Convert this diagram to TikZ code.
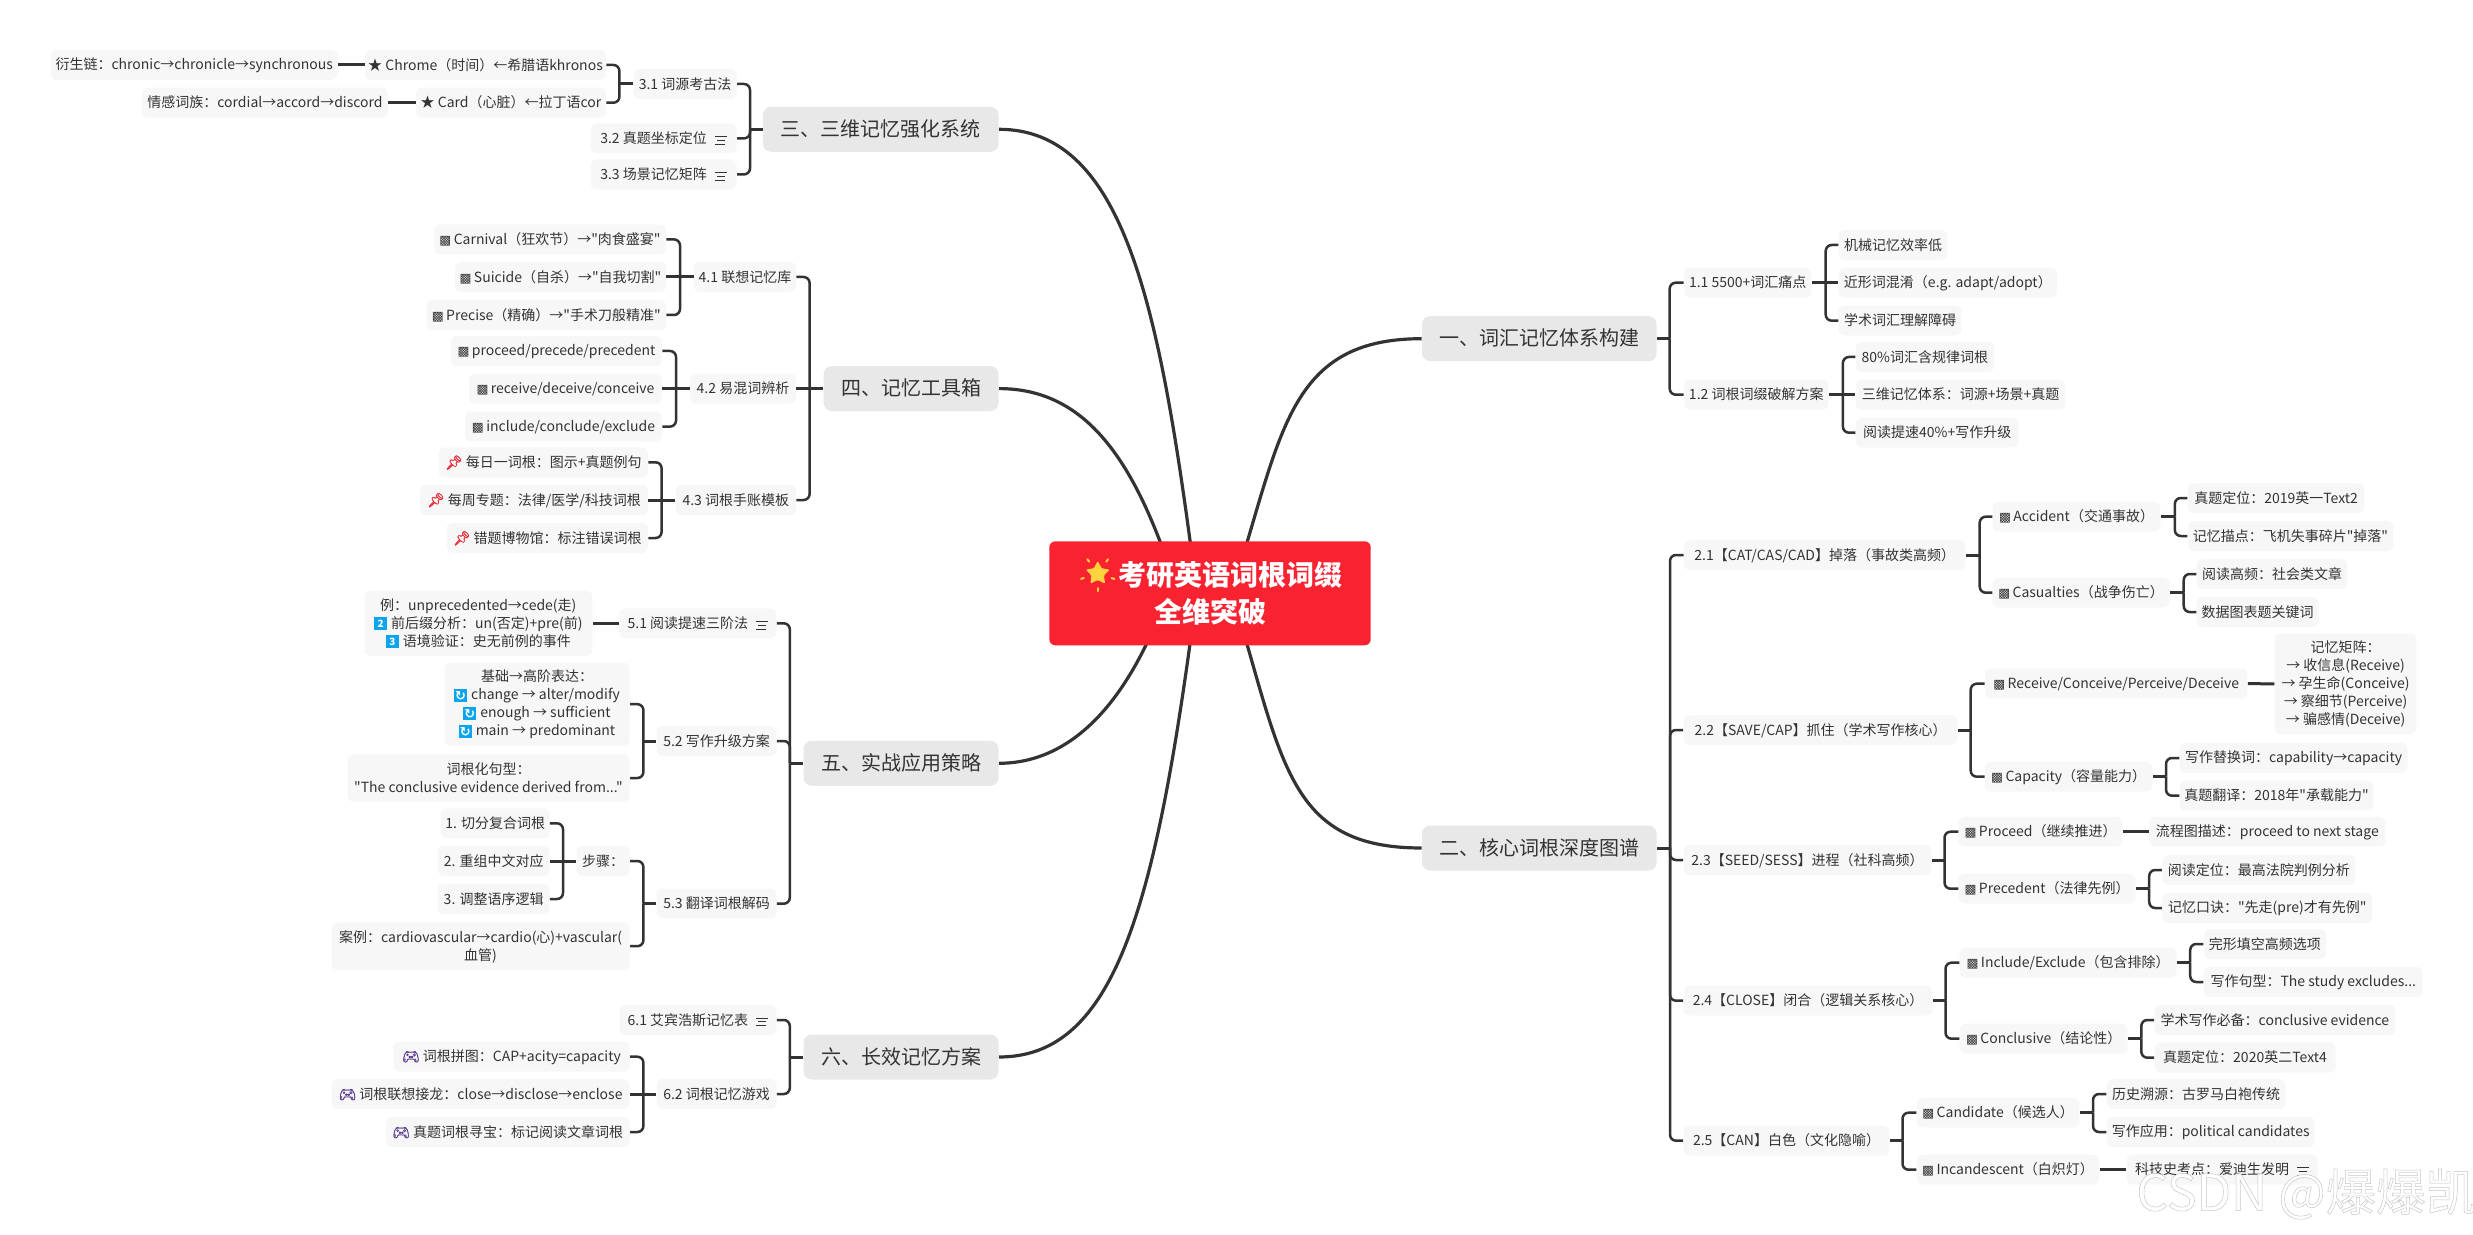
\documentclass[tikz,border=0pt]{standalone}
\usepackage{fontspec}
\usepackage{xcolor}
\usetikzlibrary{shapes.geometric,backgrounds}
\setmainfont{Noto Sans CJK SC}
\newfontfamily\nsc{Noto Sans CJK SC}
\newfontfamily\djvfont{DejaVu Sans}
\newfontfamily\emofont[FakeBold=1.5]{Noto Emoji}
\newfontfamily\wmfont[FakeBold=1]{Noto Sans CJK SC}
\normallineskiplimit=-20pt
\lineskiplimit=-20pt
\definecolor{ink}{HTML}{333333}
\definecolor{leaffill}{HTML}{F7F7F7}
\definecolor{topicfill}{HTML}{E8E8E8}
\definecolor{hubred}{HTML}{F92231}
\definecolor{sunyellow}{HTML}{FFD33D}
\definecolor{tileblue}{HTML}{0AA5EE}
\definecolor{pinred}{HTML}{E8303A}
\definecolor{padpurple}{HTML}{5A3A8E}
\newcommand\lstrut{\rule{0pt}{6.3pt}\rule[-1.1pt]{0pt}{0pt}}
\newcommand\nd[6]{\node[#1, minimum width={(#4-#3)*0.5pt}] (#2) at ({(#3+#4)/2},#5) {\lstrut#6\lstrut};}
\newcommand\stemL[2]{\coordinate (bus) at (#2,0); \draw[stem] (#1.west) -- (#1.west -| bus);}
\newcommand\stemR[2]{\coordinate (bus) at (#2,0); \draw[stem] (#1.east) -- (#1.east -| bus);}
\newcommand\brL[3]{\coordinate (bus) at (#3,0); \draw[branch] (#1.west -| bus) |- (#2.east);}
\newcommand\brR[3]{\coordinate (bus) at (#3,0); \draw[branch] (#1.east -| bus) |- (#2.west);}
\newcommand\lineL[2]{\draw[stem] (#1.west) -- (#2.east);}
\newcommand\lineR[2]{\draw[stem] (#1.east) -- (#2.west);}
\newcommand\cube{{\djvfont\fontsize{6.3}{6}\selectfont ▩}\hspace{1.2pt}}
\newcommand\pin{{\emofont\color{pinred}📌}\hspace{1.5pt}}
\newcommand\pad{{\emofont\color{padpurple}🎮}\hspace{1.5pt}}
\newcommand\tile[1]{{\setlength\fboxsep{0pt}\raisebox{-0.9pt}{\colorbox{tileblue}{\makebox[6.5pt]{\rule{0pt}{6.5pt}\textcolor{white}{\fontsize{5}{5}\selectfont\bfseries #1}}}}}\hspace{2pt}}
\newcommand\syn{\tile{\raisebox{0.7pt}{\djvfont\fontsize{6.5}{6.5}\selectfont ↻}}}
\newcommand\noteicon{\hspace{4pt}\raisebox{-0.4pt}{\vbox{\hrule width 6pt height .35pt \vskip 1.6pt \hbox{\hspace{1pt}\vrule width 4pt height .35pt}\vskip 1.6pt\hrule width 5pt height .35pt}}}
\tikzset{
  leaf/.style={fill=leaffill,rounded corners=3pt,inner sep=0pt,minimum height=15pt,align=center,text=ink,font=\nsc\fontsize{7}{9}\selectfont},
  topic/.style={fill=topicfill,rounded corners=4pt,inner sep=0pt,minimum height=22.5pt,align=center,text=ink,font=\nsc\fontsize{10}{12}\selectfont},
  hubnode/.style={fill=hubred,rounded corners=3pt,inner sep=0pt,align=center,text=white,font=\nsc\fontsize{14}{18.3}\selectfont\bfseries},
  stem/.style={draw=ink,line width=1.5pt},
  branch/.style={draw=ink,line width=1.25pt,rounded corners=3pt},
  main/.style={draw=ink,line width=1.6pt},
}
\begin{document}
\begin{tikzpicture}[x=0.5pt,y=-0.5pt]
\useasboundingbox (0,0) rectangle (2473,1235);
% hub
\node[hubnode,minimum width=160.7pt,minimum height=52pt] (hub) at (1210,593.3) {\makebox[20pt]{}考研英语词根词缀\\全维突破};
\node[star,star points=5,star point ratio=1.9,fill=sunyellow,inner sep=0pt,minimum size=12.5pt,rounded corners=0.5pt] (sun) at (1097.7,573.5) {};
\foreach \a in {54,126,198,270,342}{\draw[sunyellow,line width=1pt,line cap=round] ([shift={(\a:7.3pt)}]sun.center) -- ([shift={(\a:8.8pt)}]sun.center);}
% topics
\nd{topic}{t1}{1422}{1656.7}{338.7}{一、词汇记忆体系构建}
\nd{topic}{t2}{1422}{1656.7}{848}{二、核心词根深度图谱}
\nd{topic}{t3}{763}{998.5}{129.3}{三、三维记忆强化系统}
\nd{topic}{t4}{823.7}{998.5}{388.6}{四、记忆工具箱}
\nd{topic}{t5}{803.6}{998.5}{763.3}{五、实战应用策略}
\nd{topic}{t6}{803.6}{998.5}{1057}{六、长效记忆方案}
\begin{scope}[on background layer]
\draw[main] (t1.west) .. controls (1300,338.7) and (1284,418) .. ([xshift=98.7pt,yshift=-2pt]hub.north west);
\draw[main] (t2.west) .. controls (1300,848) and (1285,777) .. ([xshift=98.7pt,yshift=2pt]hub.south west);
\draw[main] (t3.east) .. controls (1120,129.3) and (1157,295) .. ([xshift=70.85pt,yshift=-2pt]hub.north west);
\draw[main] (t4.east) .. controls (1075,388.6) and (1123,443) .. ([xshift=56.2pt,yshift=-2pt]hub.north west);
\draw[main] (t5.east) .. controls (1050,763.3) and (1104,733) .. ([xshift=49.35pt,yshift=2pt]hub.south west);
\draw[main] (t6.east) .. controls (1110,1057) and (1152,920) .. ([xshift=70.7pt,yshift=2pt]hub.south west);
\end{scope}
% section 1
\nd{leaf}{a1}{1684}{1811.4}{282.7}{1.1 5500+词汇痛点}
\nd{leaf}{a2}{1684}{1828.5}{394.7}{1.2 词根词缀破解方案}
\nd{leaf}{a11}{1838.7}{1947.6}{245}{机械记忆效率低}
\nd{leaf}{a12}{1838.7}{2057}{282.7}{近形词混淆（e.g. adapt/adopt）}
\nd{leaf}{a13}{1838.7}{1961.3}{320.7}{学术词汇理解障碍}
\nd{leaf}{a21}{1855.8}{1994}{357}{80\%词汇含规律词根}
\nd{leaf}{a22}{1855.8}{2065.3}{394.7}{三维记忆体系：词源+场景+真题}
\nd{leaf}{a23}{1855.8}{2018.7}{432.7}{阅读提速40\%+写作升级}
\stemR{t1}{1669.7}\brR{t1}{a1}{1669.7}\brR{t1}{a2}{1669.7}
\lineR{a1}{a12}\brR{a1}{a11}{1825.7}\brR{a1}{a13}{1825.7}
\lineR{a2}{a22}\brR{a2}{a21}{1842.9}\brR{a2}{a23}{1842.9}
% section 2
\nd{leaf}{b1}{1684}{1965.4}{555}{2.1【CAT/CAS/CAD】掉落（事故类高频）}
\nd{leaf}{b11}{1992.7}{2160.4}{516.7}{\cube Accident（交通事故）}
\nd{leaf}{b12}{1992.7}{2169.3}{592.7}{\cube Casualties（战争伤亡）}
\nd{leaf}{b111}{2187.8}{2364.4}{498}{真题定位：2019英一Text2}
\nd{leaf}{b112}{2187.8}{2393}{536}{记忆描点：飞机失事碎片"掉落"}
\nd{leaf}{b121}{2196.7}{2347.3}{574}{阅读高频：社会类文章}
\nd{leaf}{b122}{2196.7}{2318.5}{612}{数据图表题关键词}
\stemR{t2}{1670}\brR{t2}{b1}{1670}
\stemR{b1}{1979.7}\brR{b1}{b11}{1979.7}\brR{b1}{b12}{1979.7}
\stemR{b11}{2174.8}\brR{b11}{b111}{2174.8}\brR{b11}{b112}{2174.8}
\stemR{b12}{2183.7}\brR{b12}{b121}{2183.7}\brR{b12}{b122}{2183.7}
\nd{leaf}{b2}{1683.6}{1957.6}{730}{2.2【SAVE/CAP】抓住（学术写作核心）}
\nd{leaf}{b21}{1985}{2247.4}{683.7}{\cube Receive/Conceive/Perceive/Deceive}
\nd{leaf,minimum height=50.5pt}{b211}{2274.7}{2416.4}{683.8}{记忆矩阵：\\→ 收信息(Receive)\\→ 孕生命(Conceive)\\→ 察细节(Perceive)\\→ 骗感情(Deceive)}
\nd{leaf}{b22}{1985}{2152.4}{776.7}{\cube Capacity（容量能力）}
\nd{leaf}{b221}{2179.7}{2407.5}{758}{写作替换词：capability→capacity}
\nd{leaf}{b222}{2179.7}{2373.4}{795.7}{真题翻译：2018年"承载能力"}
\brR{t2}{b2}{1670}
\stemR{b2}{1970.7}\brR{b2}{b21}{1970.7}\brR{b2}{b22}{1970.7}
\lineR{b21}{b211}
\stemR{b22}{2166}\brR{b22}{b221}{2166}\brR{b22}{b222}{2166}
\nd{leaf}{b3}{1683.6}{1931.4}{860}{2.3【SEED/SESS】进程（社科高频）}
\nd{leaf}{b31}{1958.7}{2122.4}{831.7}{\cube Proceed（继续推进）}
\nd{leaf}{b311}{2149.2}{2385.4}{831.7}{流程图描述：proceed to next stage}
\nd{leaf}{b32}{1958.7}{2135.6}{888.7}{\cube Precedent（法律先例）}
\nd{leaf}{b321}{2162.3}{2355.5}{870}{阅读定位：最高法院判例分析}
\nd{leaf}{b322}{2162.3}{2372.3}{908}{记忆口诀："先走(pre)才有先例"}
\brR{t2}{b3}{1670}
\stemR{b3}{1944.5}\brR{b3}{b31}{1944.5}\brR{b3}{b32}{1944.5}
\lineR{b31}{b311}
\stemR{b32}{2149.2}\brR{b32}{b321}{2149.2}\brR{b32}{b322}{2149.2}
\nd{leaf}{b4}{1683.6}{1932.4}{1000.7}{2.4【CLOSE】闭合（逻辑关系核心）}
\nd{leaf}{b41}{1959.7}{2176.5}{962.7}{\cube Include/Exclude（包含排除）}
\nd{leaf}{b411}{2203.8}{2326}{944}{完形填空高频选项}
\nd{leaf}{b412}{2203.8}{2422.7}{982}{写作句型：The study excludes...}
\nd{leaf}{b42}{1959.7}{2127.7}{1038.7}{\cube Conclusive（结论性）}
\nd{leaf}{b421}{2154.5}{2395.4}{1020}{学术写作必备：conclusive evidence}
\nd{leaf}{b422}{2154.5}{2335.6}{1057.7}{真题定位：2020英二Text4}
\brR{t2}{b4}{1670}
\stemR{b4}{1945.5}\brR{b4}{b41}{1945.5}\brR{b4}{b42}{1945.5}
\stemR{b41}{2190.2}\brR{b41}{b411}{2190.2}\brR{b41}{b412}{2190.2}
\stemR{b42}{2141.3}\brR{b42}{b421}{2141.3}\brR{b42}{b422}{2141.3}
\nd{leaf}{b5}{1683.6}{1889.4}{1140.7}{2.5【CAN】白色（文化隐喻）}
\nd{leaf}{b51}{1916.7}{2079.4}{1112.7}{\cube Candidate（候选人）}
\nd{leaf}{b511}{2106.7}{2285.7}{1094}{历史溯源：古罗马白袍传统}
\nd{leaf}{b512}{2106.7}{2314.6}{1132}{写作应用：political candidates}
\nd{leaf}{b52}{1916.7}{2099.4}{1169.7}{\cube Incandescent（白炽灯）}
\nd{leaf}{b521}{2126.6}{2317.7}{1169.7}{科技史考点：爱迪生发明\noteicon}
\brR{t2}{b5}{1670}
\stemR{b5}{1902.5}\brR{b5}{b51}{1902.5}\brR{b5}{b52}{1902.5}
\stemR{b51}{2093}\brR{b51}{b511}{2093}\brR{b51}{b512}{2093}
\lineR{b52}{b521}
% section 3
\nd{leaf}{c1}{633.5}{736.6}{84}{3.1 词源考古法}
\nd{leaf}{c2}{590.6}{736.6}{138.4}{3.2 真题坐标定位\noteicon}
\nd{leaf}{c3}{590.6}{736.6}{174.4}{3.3 场景记忆矩阵\noteicon}
\nd{leaf}{c11}{365}{606}{65}{★ Chrome（时间）←希腊语khronos}
\nd{leaf}{c12}{416}{606}{102.7}{★ Card（心脏）←拉丁语cor}
\nd{leaf}{c111}{51}{337.5}{65}{衍生链：chronic→chronicle→synchronous}
\nd{leaf}{c121}{142}{388}{102.7}{情感词族：cordial→accord→discord}
\stemL{t3}{750}\brL{t3}{c1}{750}\brL{t3}{c2}{750}\brL{t3}{c3}{750}
\stemL{c1}{619.4}\brL{c1}{c11}{619.4}\brL{c1}{c12}{619.4}
\lineL{c11}{c111}\lineL{c12}{c121}
% section 4
\nd{leaf}{d1}{694}{796}{277}{4.1 联想记忆库}
\nd{leaf}{d2}{690}{796}{388.6}{4.2 易混词辨析}
\nd{leaf}{d3}{675.7}{796}{500}{4.3 词根手账模板}
\nd{leaf}{d11}{434}{666}{239.4}{\cube Carnival（狂欢节）→"肉食盛宴"}
\nd{leaf}{d12}{455}{666}{277}{\cube Suicide（自杀）→"自我切割"}
\nd{leaf}{d13}{426.6}{666}{315}{\cube Precise（精确）→"手术刀般精准"}
\nd{leaf}{d21}{451}{662}{351}{\cube proceed/precede/precedent}
\nd{leaf}{d22}{469}{662}{388.6}{\cube receive/deceive/conceive}
\nd{leaf}{d23}{465}{662}{426.6}{\cube include/conclude/exclude}
\nd{leaf}{d31}{438.6}{648}{462.3}{\pin 每日一词根：图示+真题例句}
\nd{leaf}{d32}{420}{648}{500}{\pin 每周专题：法律/医学/科技词根}
\nd{leaf}{d33}{446.7}{648}{538}{\pin 错题博物馆：标注错误词根}
\lineL{t4}{d2}\brL{t4}{d1}{809.6}\brL{t4}{d3}{809.6}
\lineL{d1}{d12}\brL{d1}{d11}{680}\brL{d1}{d13}{680}
\lineL{d2}{d22}\brL{d2}{d21}{676}\brL{d2}{d23}{676}
\lineL{d3}{d32}\brL{d3}{d31}{661.6}\brL{d3}{d33}{661.6}
% section 5
\nd{leaf}{e1}{619.4}{776.5}{623.3}{5.1 阅读提速三阶法\noteicon}
\nd{leaf}{e2}{656.6}{776.5}{741}{5.2 写作升级方案}
\nd{leaf}{e3}{656.6}{776.5}{903.7}{5.3 翻译词根解码}
\nd{leaf,minimum height=32.6pt}{e11}{364.3}{592.3}{623.3}{例：unprecedented→cede(走)\\\tile{\raisebox{1.3pt}{2}}前后缀分析：un(否定)+pre(前)\\\tile{\raisebox{1.3pt}{3}}语境验证：史无前例的事件}
\nd{leaf,minimum height=41.5pt}{e21}{444.4}{629.6}{704.2}{基础→高阶表达：\\\syn change → alter/modify\\\syn enough → sufficient\\\syn main → predominant}
\nd{leaf,minimum height=23.7pt}{e22}{347.4}{629.6}{778}{词根化句型：\\"The conclusive evidence derived from..."}
\nd{leaf}{e31}{576.5}{629.6}{861}{步骤：}
\nd{leaf,minimum height=23.7pt}{e32}{331.6}{629.6}{946.2}{案例：cardiovascular→cardio(心)+vascular(\\血管)}
\nd{leaf}{e311}{441}{549.5}{823.3}{1. 切分复合词根}
\nd{leaf}{e312}{438}{549.5}{861}{2. 重组中文对应}
\nd{leaf}{e313}{437.8}{549.5}{899}{3. 调整语序逻辑}
\stemL{t5}{789.8}\brL{t5}{e1}{789.8}\brL{t5}{e2}{789.8}\brL{t5}{e3}{789.8}
\lineL{e1}{e11}
\stemL{e2}{643.4}\brL{e2}{e21}{643.4}\brL{e2}{e22}{643.4}
\stemL{e3}{643.4}\brL{e3}{e31}{643.4}\brL{e3}{e32}{643.4}
\lineL{e31}{e312}\brL{e31}{e311}{563}\brL{e31}{e313}{563}
% section 6
\nd{leaf}{f1}{619.4}{776.5}{1020}{6.1 艾宾浩斯记忆表\noteicon}
\nd{leaf}{f2}{656.6}{776.5}{1094}{6.2 词根记忆游戏}
\nd{leaf}{f21}{393.4}{629.6}{1056.7}{\pad 词根拼图：CAP+acity=capacity}
\nd{leaf}{f22}{331.6}{629.6}{1094}{\pad 词根联想接龙：close→disclose→enclose}
\nd{leaf}{f23}{385.7}{629.6}{1132}{\pad 真题词根寻宝：标记阅读文章词根}
\stemL{t6}{789.8}\brL{t6}{f1}{789.8}\brL{t6}{f2}{789.8}
\lineL{f2}{f22}\brL{f2}{f21}{643.4}\brL{f2}{f23}{643.4}
% watermark
\node[inner sep=0pt,font=\fontsize{25}{28}\wmfont] (wm) at (2306,1194) {\color{white}\special{pdf:code 0.78 G}CSDN @爆爆凯};
\end{tikzpicture}
\end{document}
